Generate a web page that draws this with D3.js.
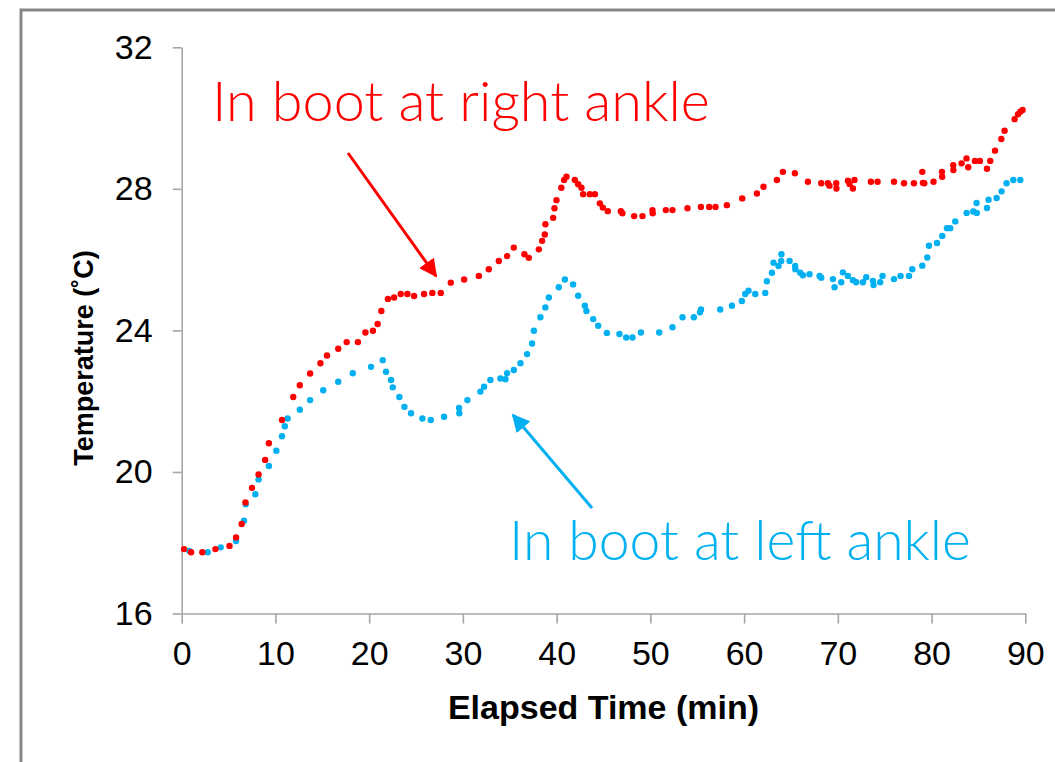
<!DOCTYPE html>
<html>
<head>
<meta charset="utf-8">
<script src="https://cdn.jsdelivr.net/npm/d3@7"></script>
<style>
  html, body { margin: 0; padding: 0; background: #fff; }
  svg { display: block; }
</style>
</head>
<body>
<svg id="chart" width="1055" height="762"></svg>
<script>
// ---- data ----
const redTime = [0.25,1.0,2.2,3.6,5.1,5.8,6.4,6.8,7.5,8.2,8.9,9.3,10.7,11.9,12.6,13.7,14.8,15.5,16.7,17.6,18.8,19.6,20.4,20.9,21.3,22.0,22.66,23.37,24.08,24.79,25.86,26.74,27.64,28.71,30.13,31.70,32.76,33.83,34.72,35.43,36.56,37.03,38.10,38.45,38.74,38.80,39.63,39.77,39.98,40.5,40.8,41.05,41.94,42.30,42.65,42.83,43.54,44.08,44.61,44.93,45.46,46.85,47.02,48.27,49.16,50.22,50.25,51.65,52.36,53.96,55.39,56.28,56.95,58.16,59.80,61.37,62.07,63.50,64.14,65.42,66.81,68.23,68.94,69.11,69.83,69.85,71.08,71.25,71.61,71.78,73.53,74.24,75.99,77.06,78.12,79.01,79.08,79.22,80.21,81.11,81.13,82.31,82.33,83.20,83.73,83.91,84.63,85.16,85.91,86.26,86.77,87.44,87.79,88.86,89.22,89.47,89.71];
const redTemp = [17.82,17.73,17.73,17.82,17.91,18.15,18.53,19.14,19.55,19.93,20.34,20.81,21.47,22.12,22.45,22.78,23.07,23.29,23.48,23.67,23.67,23.94,23.99,24.18,24.55,24.89,24.93,25.03,25.03,24.97,25.03,25.06,25.06,25.35,25.44,25.54,25.73,25.96,26.10,26.34,26.15,26.05,26.29,26.53,26.71,27.00,27.18,27.45,27.68,28.03,28.25,28.34,28.25,28.13,28.03,27.85,27.85,27.85,27.59,27.47,27.37,27.37,27.31,27.23,27.23,27.40,27.31,27.40,27.40,27.45,27.49,27.49,27.49,27.54,27.73,27.87,28.06,28.25,28.48,28.44,28.20,28.16,28.16,28.09,28.16,28.01,28.23,28.14,28.01,28.25,28.20,28.20,28.20,28.16,28.16,28.48,28.17,28.16,28.20,28.48,28.34,28.67,28.53,28.72,28.86,28.61,28.79,28.79,28.57,28.79,29.08,29.41,29.64,29.97,30.11,30.18,30.23];

const blueTime = [0.81,2.77,4.16,5.8,6.65,6.83,7.85,8.2,9.3,10.1,10.7,11.0,11.3,12.6,13.7,15.1,16.7,18.25,20.2,21.45,21.80,22.34,22.52,23.22,23.76,24.47,25.68,26.57,27.99,29.59,29.62,30.48,31.87,32.26,32.93,34.00,34.54,34.72,35.43,36.14,36.85,37.38,37.57,38.27,38.80,39.17,40.23,40.88,41.76,42.30,43.01,43.18,43.90,44.43,45.36,46.70,47.42,48.09,48.99,50.94,52.36,53.43,54.64,55.30,55.40,57.45,58.70,59.76,60.12,60.47,61.19,62.25,62.43,62.97,63.14,63.67,63.96,63.98,64.85,65.45,65.47,65.99,66.27,66.98,68.05,68.23,69.48,69.65,70.36,70.54,71.08,71.61,71.96,72.68,73.03,73.75,73.81,74.52,74.77,75.99,76.69,77.59,77.94,79.01,79.54,79.72,80.58,81.14,81.64,81.99,82.53,83.74,84.45,84.80,84.82,85.91,86.08,86.94,87.47,88.00,88.72,89.47];
const blueTemp = [17.77,17.73,17.87,18.05,18.62,19.09,19.37,19.79,20.17,20.60,21.01,21.29,21.51,21.76,22.03,22.31,22.55,22.79,22.97,23.16,22.83,22.60,22.39,22.12,21.84,21.66,21.51,21.47,21.56,21.81,21.66,22.03,22.27,22.41,22.60,22.64,22.62,22.79,22.88,23.07,23.33,23.63,23.99,24.37,24.65,24.93,25.22,25.44,25.30,24.98,24.70,24.55,24.32,24.13,23.93,23.90,23.80,23.80,23.94,23.94,24.09,24.37,24.37,24.51,24.59,24.59,24.70,24.83,25.03,25.12,25.03,25.06,25.39,25.63,25.91,25.82,25.96,26.15,25.96,25.82,25.73,25.63,25.56,25.59,25.54,25.49,25.45,25.22,25.36,25.64,25.54,25.42,25.36,25.36,25.50,25.40,25.28,25.36,25.54,25.45,25.54,25.54,25.73,25.83,26.06,26.39,26.47,26.67,26.89,26.89,27.08,27.32,27.36,27.60,27.32,27.46,27.69,27.74,27.93,28.16,28.25,28.25];

const xTicks = [0,10,20,30,40,50,60,70,80,90];
const yTicks = [16,20,24,28,32];
const xTitle = "Elapsed Time (min)";
const yTitle = "Temperature (\u02DAC)";
const redLabel = "In boot at right ankle";
const blueLabel = "In boot at left ankle";

// ---- chart ----
const svg = d3.select("#chart");
const RED = "#ff0000", BLUE = "#00b0f0", AXIS = "#a6a6a6";

svg.append("rect").attr("x", 21).attr("y", 10).attr("width", 1200).attr("height", 900)
  .attr("fill", "#fff").attr("stroke", "#878787").attr("stroke-width", 3);

const x = d3.scaleLinear().domain([0, 90]).range([181.7, 1025.3]);
const y = d3.scaleLinear().domain([16, 32]).range([613.5, 47.3]);

const gx = svg.append("g").attr("transform", `translate(0,${y(16)})`)
  .call(d3.axisBottom(x).tickValues(xTicks).tickSize(10).tickSizeOuter(0).tickPadding(17));
const gy = svg.append("g").attr("transform", `translate(${x(0)},0)`)
  .call(d3.axisLeft(y).tickValues(yTicks).tickSize(9).tickSizeOuter(0).tickPadding(20));

[gx, gy].forEach(g => {
  g.selectAll("path.domain").attr("stroke", AXIS).attr("stroke-width", 1.6);
  g.selectAll(".tick line").attr("stroke", AXIS).attr("stroke-width", 1.6);
  g.selectAll(".tick text").attr("fill", "#000")
    .style("font-family", "'Liberation Sans', Arial, sans-serif").style("font-size", "34px");
});

svg.append("text").attr("x", (x(0) + x(90)) / 2).attr("y", 719)
  .attr("text-anchor", "middle")
  .style("font-family", "'Liberation Sans', Arial, sans-serif").style("font-weight", "bold")
  .style("font-size", "34px").text(xTitle);

svg.append("text").attr("transform", `translate(93,${358}) rotate(-90)`)
  .attr("text-anchor", "middle")
  .style("font-family", "'Liberation Sans', Arial, sans-serif").style("font-weight", "bold")
  .style("font-size", "27px").text(yTitle);

// points
const redPts = redTime.map((t, i) => [t, redTemp[i]]);
const bluePts = blueTime.map((t, i) => [t, blueTemp[i]]);

svg.append("g").selectAll("circle").data(bluePts).join("circle")
  .attr("cx", d => x(d[0])).attr("cy", d => y(d[1])).attr("r", 3.2).attr("fill", BLUE);
svg.append("g").selectAll("circle").data(redPts).join("circle")
  .attr("cx", d => x(d[0])).attr("cy", d => y(d[1])).attr("r", 3.2).attr("fill", RED);

// arrows
const defs = svg.append("defs");
[["ar", RED], ["ab", BLUE]].forEach(([id, c]) => {
  defs.append("marker").attr("id", id).attr("viewBox", "0 0 10 10")
    .attr("refX", 9).attr("refY", 5).attr("markerWidth", 6).attr("markerHeight", 6)
    .attr("markerUnits", "strokeWidth").attr("orient", "auto")
    .append("path").attr("d", "M0,0 L10,5 L0,10 z").attr("fill", c);
});
svg.append("line").attr("x1", 348).attr("y1", 153).attr("x2", 436).attr("y2", 276)
  .attr("stroke", RED).attr("stroke-width", 3).attr("marker-end", "url(#ar)");
svg.append("line").attr("x1", 592).attr("y1", 508).attr("x2", 513).attr("y2", 415)
  .attr("stroke", BLUE).attr("stroke-width", 3).attr("marker-end", "url(#ab)");

// annotation labels
function fitText(txt, x0, base, width, color) {
  const t = svg.append("text").attr("x", x0).attr("y", base).attr("fill", color)
    .style("font-family", "Lato, 'Open Sans', sans-serif").style("font-weight", 300)
    .style("font-size", "56px").text(txt);
  const len = t.node().getComputedTextLength();
  t.style("font-size", (56 * width / len) + "px");
  return t;
}
fitText(redLabel, 212, 121, 498, RED);
fitText(blueLabel, 509, 560, 462, BLUE);
</script>
</body>
</html>
